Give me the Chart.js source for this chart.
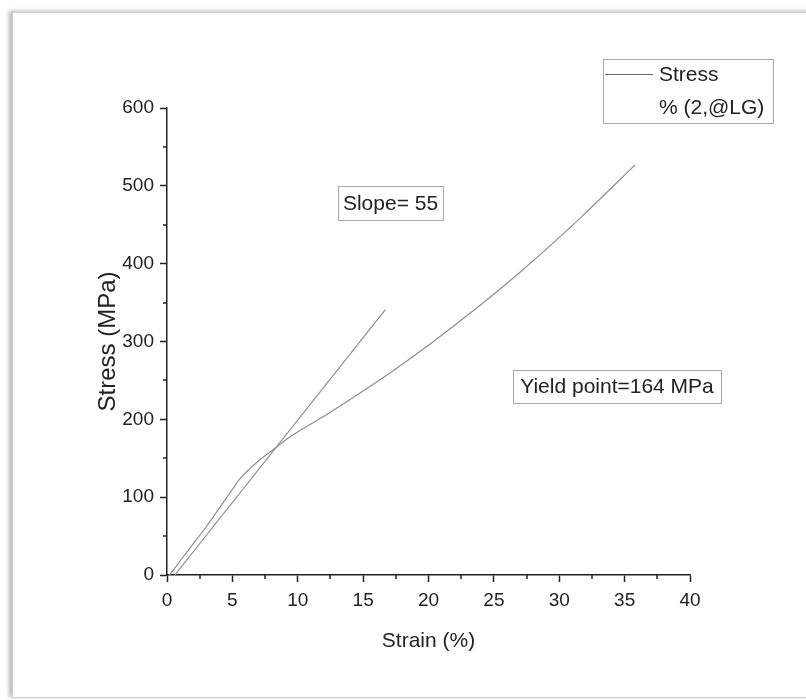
<!DOCTYPE html>
<html lang="en">
<head>
  <meta charset="UTF-8">
  <title>Stress vs Strain</title>
  <script src="https://cdn.jsdelivr.net/npm/chart.js"></script>
  <style>
    body { margin: 0; background: #fff; }
    #wrap { position: relative; width: 806px; height: 700px; overflow: hidden; }
    #frame { position: absolute; left: 12px; top: 12px; width: 810px; height: 684px;
      border: 1px solid #cfcfcf; box-shadow: -3px -1px 4px rgba(0,0,0,0.28); background: #fff; }
    #stressChart { position: absolute; left: 0; top: 0; }
  </style>
</head>
<body>
  <div id="wrap">
    <div id="frame"></div>
    <canvas id="stressChart" width="806" height="700"></canvas>
  </div>
  <script>
    // measured curve (strain %, stress MPa)
    const strain = [0.2, 1, 2, 3, 4, 5, 5.6, 6.3, 7.1, 8.1, 9.2, 10.2, 12, 14.5, 17, 19.5, 22, 24.5, 27, 29.5, 32, 35.8];
    const stress = [0, 18, 40, 62, 86, 110, 124, 136, 148, 161, 175, 186, 204, 231, 259, 289, 321, 354, 389, 426, 465, 527];
    // linear fit line for the slope
    const fitStrain = [0.6, 16.7];
    const fitStress = [0, 341];

    const xTicks = [0, 5, 10, 15, 20, 25, 30, 35, 40];
    const yTicks = [0, 100, 200, 300, 400, 500, 600];

    const seriesName = 'Stress';
    const seriesNote = '% (2,@LG)';
    const slopeText = 'Slope= 55';
    const yieldText = 'Yield point=164 MPa';

    const FONT = '"Liberation Sans", Arial, sans-serif';
    const TXT = '#222';
    const LINE = '#8e8e8e';

    const boxes = [
      { text: slopeText, x: 338, y: 186, w: 105, h: 34 },
      { text: yieldText, x: 513, y: 370, w: 208, h: 33 }
    ];

    const extras = {
      id: 'extras',
      afterDraw(chart) {
        const ctx = chart.ctx;
        const xs = chart.scales.x, ys = chart.scales.y;
        ctx.save();
        // minor ticks halfway between the major ones
        ctx.strokeStyle = '#222';
        ctx.lineWidth = 1.5;
        ctx.beginPath();
        for (let i = 0; i < xTicks.length - 1; i++) {
          const px = Math.round(xs.getPixelForValue((xTicks[i] + xTicks[i + 1]) / 2));
          ctx.moveTo(px, ys.bottom);
          ctx.lineTo(px, ys.bottom + 4);
        }
        for (let i = 0; i < yTicks.length - 1; i++) {
          const py = Math.round(ys.getPixelForValue((yTicks[i] + yTicks[i + 1]) / 2));
          ctx.moveTo(xs.left, py);
          ctx.lineTo(xs.left - 4, py);
        }
        ctx.stroke();

        // text boxes
        ctx.font = '21px ' + FONT;
        ctx.textAlign = 'center';
        ctx.textBaseline = 'middle';
        boxes.forEach(b => {
          ctx.strokeStyle = '#a8a8a8';
          ctx.lineWidth = 1;
          ctx.strokeRect(b.x + 0.5, b.y + 0.5, b.w, b.h);
          ctx.fillStyle = TXT;
          ctx.fillText(b.text, b.x + b.w / 2, b.y + b.h / 2 + 1);
        });

        // legend
        ctx.strokeStyle = '#a8a8a8';
        ctx.strokeRect(603.5, 59.5, 170, 64);
        ctx.strokeStyle = '#666';
        ctx.lineWidth = 1;
        ctx.beginPath();
        ctx.moveTo(605, 74.5);
        ctx.lineTo(653, 74.5);
        ctx.stroke();
        ctx.fillStyle = TXT;
        ctx.textAlign = 'left';
        ctx.fillText(seriesName, 659, 75);
        ctx.fillText(seriesNote, 659, 108);
        ctx.restore();
      }
    };

    new Chart(document.getElementById('stressChart'), {
      type: 'scatter',
      data: {
        datasets: [{
          label: seriesName,
          data: strain.map((v, i) => ({ x: v, y: stress[i] })),
          showLine: true,
          borderColor: LINE,
          borderWidth: 1.2,
          pointRadius: 0,
          cubicInterpolationMode: 'monotone'
        }, {
          label: 'Fit',
          data: fitStrain.map((v, i) => ({ x: v, y: fitStress[i] })),
          showLine: true,
          borderColor: LINE,
          borderWidth: 1.2,
          pointRadius: 0
        }]
      },
      options: {
        responsive: false,
        animation: false,
        layout: { padding: { top: 108, right: 116, left: 0, bottom: 0 } },
        plugins: { legend: { display: false }, tooltip: { enabled: false } },
        scales: {
          x: {
            type: 'linear', min: 0, max: 40,
            afterBuildTicks: s => { s.ticks = xTicks.map(v => ({ value: v })); },
            afterFit: s => { s.height = 125; },
            border: { color: '#222', width: 1.5 },
            grid: { drawOnChartArea: false, tickLength: 7, tickColor: '#222', tickWidth: 1.5 },
            ticks: { color: TXT, font: { family: FONT, size: 19 }, padding: 7 },
            title: { display: true, text: 'Strain (%)', color: TXT, font: { family: FONT, size: 21 }, padding: { top: 4, bottom: 46 } }
          },
          y: {
            type: 'linear', min: 0, max: 600,
            afterBuildTicks: s => { s.ticks = yTicks.map(v => ({ value: v })); },
            afterFit: s => { s.width = 167; },
            border: { color: '#222', width: 1.5 },
            grid: { drawOnChartArea: false, tickLength: 7, tickColor: '#222', tickWidth: 1.5 },
            ticks: { color: TXT, font: { family: FONT, size: 19 }, padding: 6 },
            title: { display: true, text: 'Stress (MPa)', color: TXT, font: { family: FONT, size: 24 }, padding: { top: 94, bottom: 4 } }
          }
        }
      },
      plugins: [extras]
    });
  </script>
</body>
</html>
